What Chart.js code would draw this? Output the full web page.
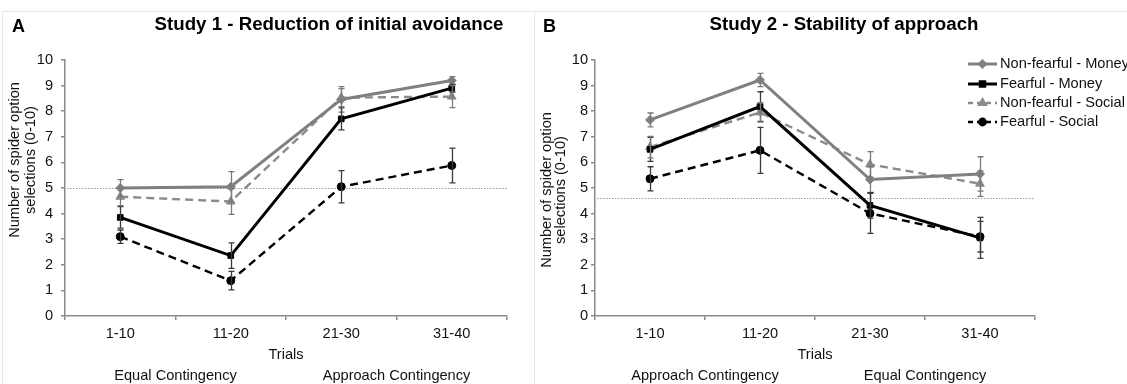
<!DOCTYPE html>
<html><head><meta charset="utf-8">
<script src="https://cdn.jsdelivr.net/npm/chart.js@4.4.1/dist/chart.umd.min.js"></script>
<style>
html,body{margin:0;padding:0;background:#fff;}
#wrap{position:relative;width:1127px;height:384px;overflow:hidden;background:#fff;}
.panel{position:absolute;top:0;height:384px;}
.frame{position:absolute;border:1px solid #e6e6e6;}
canvas{display:block;}
</style></head><body>
<div id="wrap">
  <div class="frame" style="left:2px;top:11px;width:531px;height:420px;"></div>
  <div class="frame" style="left:534px;top:11px;width:640px;height:420px;"></div>
  <div class="panel" style="left:0;width:534px;"><canvas id="cA" width="534" height="384"></canvas></div>
  <div class="panel" style="left:534px;width:593px;"><canvas id="cB" width="593" height="384"></canvas></div>
</div>
<script>
// ---------- DATA ----------
const categories = ['1-10', '11-20', '21-30', '31-40'];
const seriesNames = ['Non-fearful - Money', 'Fearful - Money', 'Non-fearful - Social', 'Fearful - Social'];
const yTicks = [0, 1, 2, 3, 4, 5, 6, 7, 8, 9, 10];

// Study 1 (panel A)
const s1NonFearfulMoney     = [5.00, 5.05, 8.46, 9.20];
const s1NonFearfulMoneyErr  = [0.33, 0.59, 0.50, 0.15];
const s1FearfulMoney        = [3.85, 2.36, 7.70, 8.90];
const s1FearfulMoneyErr     = [0.42, 0.50, 0.43, 0.15];
const s1NonFearfulSocial    = [4.66, 4.47, 8.53, 8.57];
const s1NonFearfulSocialErr = [0.35, 0.50, 0.35, 0.43];
const s1FearfulSocial       = [3.10, 1.38, 5.05, 5.88];
const s1FearfulSocialErr    = [0.26, 0.36, 0.63, 0.68];
const s1ReferenceLine = 5.0;

// Study 2 (panel B)
const s2NonFearfulMoney     = [7.66, 9.22, 5.33, 5.55];
const s2NonFearfulMoneyErr  = [0.27, 0.26, 0.50, 0.67];
const s2FearfulMoney        = [6.51, 8.18, 4.32, 3.05];
const s2FearfulMoneyErr     = [0.47, 0.58, 0.50, 0.80];
const s2NonFearfulSocial    = [6.60, 7.95, 5.92, 5.17];
const s2NonFearfulSocialErr = [0.42, 0.38, 0.50, 0.50];
const s2FearfulSocial       = [5.36, 6.47, 4.01, 3.10];
const s2FearfulSocialErr    = [0.47, 0.90, 0.78, 0.60];
const s2ReferenceLine = 4.62;

// texts
const titleA = 'Study 1 - Reduction of initial avoidance';
const titleB = 'Study 2 - Stability of approach';
const yAxisTitle = ['Number of spider option', 'selections (0-10)'];
const xAxisTitle = 'Trials';
const phasesA = ['Equal Contingency', 'Approach Contingency'];
const phasesB = ['Approach Contingency', 'Equal Contingency'];

// ---------- STYLES ----------
const FONT = "'Liberation Sans', Arial, sans-serif";
const FS = 14.6;
const GRAY = '#808080';
const seriesStyles = [
  {color: GRAY,   width: 3,   dash: [],     point: 'rectRot',  radius: 4.5, errColor: '#7a7a7a', legendRadius: 3},
  {color: '#000', width: 3,   dash: [],     point: 'rect',     radius: 4,   errColor: '#3a3a3a', legendRadius: 3.2},
  {color: '#8a8a8a', width: 2.4, dash: [8, 5], point: 'triangle', radius: 5,   errColor: '#7a7a7a', legendRadius: 3.6},
  {color: '#000', width: 2.4, dash: [8, 5], point: 'circle',   radius: 4,   errColor: '#3a3a3a', legendRadius: 3.2}
];

// ---------- PLUGINS ----------
const refLinePlugin = {
  id: 'refLine',
  beforeDatasetsDraw(chart, args, opts) {
    const {ctx, chartArea} = chart;
    const y = chart.scales.y.getPixelForValue(opts.value);
    ctx.save();
    ctx.strokeStyle = '#9a9a9a';
    ctx.lineWidth = 1;
    ctx.setLineDash([1.5, 1.5]);
    ctx.beginPath();
    ctx.moveTo(chartArea.left + 2, Math.round(y) + 0.5);
    ctx.lineTo(chartArea.right, Math.round(y) + 0.5);
    ctx.stroke();
    ctx.restore();
  }
};

const errorBarPlugin = {
  id: 'errorBars',
  afterDatasetsDraw(chart) {
    const {ctx} = chart;
    const ys = chart.scales.y;
    chart.data.datasets.forEach((ds, i) => {
      const meta = chart.getDatasetMeta(i);
      ctx.save();
      ctx.strokeStyle = ds.errColor;
      ctx.lineWidth = 1.3;
      ctx.setLineDash([]);
      meta.data.forEach((pt, j) => {
        const v = ds.data[j], e = ds.errors[j];
        const yTop = ys.getPixelForValue(v + e), yBot = ys.getPixelForValue(v - e);
        const x = Math.round(pt.x) + 0.5;
        ctx.beginPath();
        ctx.moveTo(x, yTop); ctx.lineTo(x, yBot);
        ctx.moveTo(x - 3, yTop); ctx.lineTo(x + 3, yTop);
        ctx.moveTo(x - 3, yBot); ctx.lineTo(x + 3, yBot);
        ctx.stroke();
      });
      ctx.restore();
    });
  }
};

const textPlugin = {
  id: 'texts',
  afterDraw(chart, args, o) {
    const {ctx, chartArea} = chart;
    const xs = chart.scales.x;
    ctx.save();
    ctx.fillStyle = '#000';
    ctx.textBaseline = 'middle';
    // panel letter
    ctx.font = 'bold 18px ' + FONT;
    ctx.textAlign = 'left';
    ctx.fillText(o.letter, o.letterX, 27);
    // title
    ctx.font = 'bold 18.7px ' + FONT;
    ctx.textAlign = 'center';
    ctx.fillText(o.title, o.titleX, 25);
    // y axis title
    ctx.font = FS + 'px ' + FONT;
    ctx.fillStyle = '#111';
    yAxisTitle.forEach((t, k) => {
      ctx.save();
      ctx.translate(o.yTitleX[k], o.yTitleY);
      ctx.rotate(-Math.PI / 2);
      ctx.textAlign = 'center';
      ctx.fillText(t, 0, 0);
      ctx.restore();
    });
    // x axis title + phases
    ctx.textAlign = 'center';
    ctx.fillText(xAxisTitle, (chartArea.left + chartArea.right) / 2, 355);
    const mid1 = (xs.getPixelForTick(0) + xs.getPixelForTick(1)) / 2;
    const mid2 = (xs.getPixelForTick(2) + xs.getPixelForTick(3)) / 2;
    ctx.fillText(o.phases[0], mid1, 376);
    ctx.fillText(o.phases[1], mid2, 376);
    // legend
    if (o.legend) {
      const L = o.legend;
      chart.data.datasets.forEach((ds, i) => {
        const y = L.rows[i];
        ctx.save();
        ctx.strokeStyle = ds.borderColor;
        ctx.lineWidth = ds.borderWidth;
        ctx.setLineDash(ds.borderDash.length ? [5, 4] : []);
        ctx.beginPath();
        ctx.moveTo(L.x0, y); ctx.lineTo(L.x1, y);
        ctx.stroke();
        ctx.setLineDash([]);
        ctx.fillStyle = ds.borderColor;
        ctx.strokeStyle = ds.borderColor;
        Chart.helpers.drawPoint(ctx, {pointStyle: ds.pointStyle, rotation: 0, radius: seriesStyles[i].legendRadius, borderWidth: 1}, (L.x0 + L.x1) / 2, y);
        ctx.restore();
        ctx.fillStyle = '#111';
        ctx.textAlign = 'left';
        ctx.font = FS + 'px ' + FONT;
        ctx.fillText(ds.label, L.tx, y);
      });
    }
    ctx.restore();
  }
};

// ---------- CHART FACTORY ----------
function buildDatasets(values, errors) {
  return values.map((v, i) => {
    const s = seriesStyles[i];
    return {
      label: seriesNames[i],
      data: v,
      errors: errors[i],
      errColor: s.errColor,
      borderColor: s.color,
      backgroundColor: s.color,
      borderWidth: s.width,
      borderDash: s.dash,
      pointStyle: s.point,
      pointRadius: s.radius,
      pointBackgroundColor: s.color,
      pointBorderColor: s.color,
      pointBorderWidth: 1,
      tension: 0,
      fill: false
    };
  });
}

function makeChart(id, values, errors, cfg) {
  const tickFont = {family: FONT, size: FS};
  return new Chart(document.getElementById(id), {
    type: 'line',
    data: {labels: categories, datasets: buildDatasets(values, errors)},
    options: {
      responsive: false,
      animation: false,
      events: [],
      layout: {padding: {left: 0, right: cfg.padRight, top: 60, bottom: 0}},
      plugins: {
        legend: {display: false},
        tooltip: {enabled: false},
        title: {display: false},
        refLine: {value: cfg.refValue},
        texts: cfg.texts
      },
      scales: {
        x: {
          type: 'category',
          offset: true,
          grid: {offset: true, drawOnChartArea: false, drawTicks: true, tickLength: 4, color: '#8a8a8a', lineWidth: 1.5},
          border: {display: true, color: '#8a8a8a', width: 1.5},
          ticks: {font: tickFont, color: '#111', padding: 5, autoSkip: false, maxRotation: 0},
          afterFit: s => { s.height = 68; }
        },
        y: {
          min: 0, max: 10,
          afterBuildTicks: s => { s.ticks = yTicks.map(v => ({value: v})); },
          ticks: {font: tickFont, color: '#111', padding: cfg.yTickPad},
          grid: {drawOnChartArea: false, drawTicks: true, tickLength: 4, color: '#8a8a8a', lineWidth: 1.5},
          border: {display: true, color: '#8a8a8a', width: 1.5},
          afterFit: s => { s.width = cfg.yWidth; }
        }
      }
    },
    plugins: [refLinePlugin, errorBarPlugin, textPlugin]
  });
}

makeChart('cA',
  [s1NonFearfulMoney, s1FearfulMoney, s1NonFearfulSocial, s1FearfulSocial],
  [s1NonFearfulMoneyErr, s1FearfulMoneyErr, s1NonFearfulSocialErr, s1FearfulSocialErr],
  {padRight: 27, yWidth: 65, yTickPad: 8, refValue: s1ReferenceLine,
   texts: {letter: 'A', letterX: 12, title: titleA, titleX: 329, yTitleX: [15, 31], yTitleY: 160, phases: phasesA}});

makeChart('cB',
  [s2NonFearfulMoney, s2FearfulMoney, s2NonFearfulSocial, s2FearfulSocial],
  [s2NonFearfulMoneyErr, s2FearfulMoneyErr, s2NonFearfulSocialErr, s2FearfulSocialErr],
  {padRight: 92, yWidth: 61, yTickPad: 3, refValue: s2ReferenceLine,
   texts: {letter: 'B', letterX: 9, title: titleB, titleX: 310, yTitleX: [13, 27], yTitleY: 190, phases: phasesB,
           legend: {x0: 434, x1: 463, tx: 466, rows: [64, 84, 103, 122]}}});
</script>
</body></html>
